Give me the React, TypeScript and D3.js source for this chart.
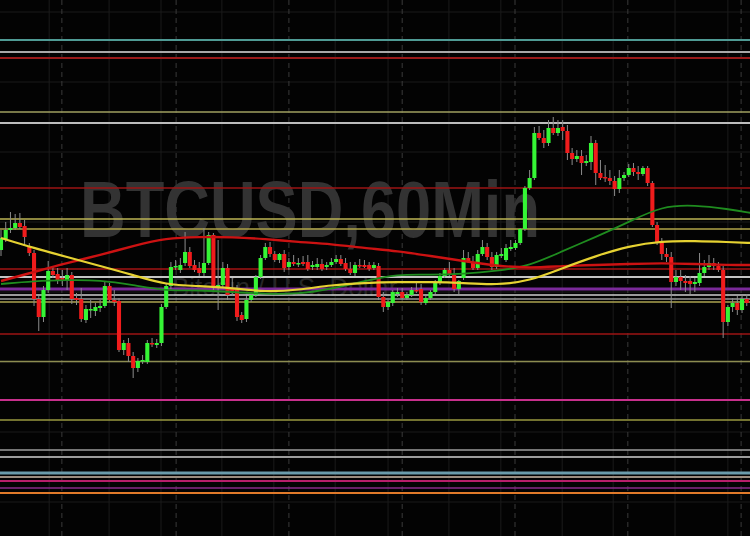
import React from "react";
import * as d3 from "d3";

const W = 750;
const H = 536;

// Candles (60-min BTCUSD)
const opens = [6750,6761,6770,6772,6777,6774,6754,6747,6701,6683,6710,6729,6726,6722,6720,6725,6702,6701,6680,6690,6689,6692,6694,6714,6700,6699,6650,6657,6644,6632,6639,6638,6657,6655,6657,6693,6714,6733,6730,6737,6748,6735,6732,6727,6737,6765,6712,6715,6732,6712,6712,6685,6681,6700,6705,6723,6742,6753,6746,6740,6746,6733,6738,6736,6738,6738,6733,6733,6736,6733,6735,6738,6741,6737,6731,6727,6735,6735,6735,6732,6734,6703,6693,6697,6706,6708,6702,6705,6710,6711,6697,6702,6708,6717,6724,6730,6725,6711,6722,6742,6738,6732,6746,6753,6743,6733,6744,6740,6751,6752,6757,6771,6812,6822,6867,6862,6857,6872,6867,6873,6869,6847,6841,6844,6837,6838,6857,6827,6823,6822,6819,6811,6822,6825,6832,6828,6826,6832,6817,6775,6758,6746,6743,6718,6723,6719,6719,6716,6717,6727,6733,6737,6734,6730,6678,6693,6697,6690,6701];
const highs = [6770,6778,6788,6786,6787,6780,6757,6750,6704,6714,6739,6734,6732,6730,6732,6728,6707,6712,6695,6700,6697,6700,6719,6717,6710,6702,6660,6662,6648,6642,6645,6660,6662,6661,6696,6717,6738,6740,6742,6768,6753,6740,6738,6772,6768,6767,6760,6738,6736,6722,6715,6688,6704,6708,6725,6745,6757,6758,6749,6747,6750,6742,6745,6742,6744,6745,6739,6742,6741,6738,6742,6745,6745,6742,6738,6738,6741,6740,6738,6738,6737,6708,6700,6710,6712,6712,6708,6713,6717,6716,6704,6710,6720,6727,6732,6738,6732,6720,6750,6748,6744,6750,6760,6757,6748,6748,6752,6756,6760,6760,6772,6814,6830,6873,6874,6870,6880,6883,6880,6880,6875,6852,6850,6850,6845,6864,6860,6840,6835,6830,6824,6830,6828,6836,6837,6834,6834,6834,6819,6778,6762,6752,6748,6730,6730,6725,6724,6722,6747,6740,6745,6742,6738,6734,6695,6702,6704,6705,6706];
const lows = [6744,6758,6767,6770,6771,6754,6744,6694,6669,6678,6707,6722,6716,6714,6710,6696,6695,6678,6677,6682,6684,6688,6692,6698,6694,6648,6645,6638,6622,6628,6636,6636,6653,6652,6654,6691,6711,6730,6727,6734,6732,6728,6724,6724,6735,6710,6690,6712,6700,6704,6679,6677,6678,6698,6703,6721,6740,6743,6738,6737,6728,6730,6734,6733,6734,6729,6730,6730,6729,6730,6733,6736,6734,6729,6725,6724,6732,6732,6729,6730,6700,6688,6690,6694,6703,6701,6700,6703,6707,6695,6695,6700,6706,6715,6722,6724,6708,6706,6720,6737,6730,6730,6744,6740,6730,6731,6742,6738,6749,6750,6755,6769,6810,6820,6860,6852,6854,6865,6864,6860,6840,6835,6838,6825,6834,6830,6815,6820,6818,6815,6804,6807,6819,6823,6824,6820,6824,6814,6773,6755,6740,6738,6692,6714,6710,6708,6706,6708,6714,6724,6730,6730,6728,6662,6674,6688,6685,6687,6694];
const closes = [6762,6770,6772,6777,6773,6763,6747,6701,6683,6710,6729,6725,6720,6720,6725,6701,6700,6681,6691,6691,6693,6694,6714,6700,6698,6650,6657,6644,6632,6639,6640,6657,6656,6657,6693,6714,6733,6734,6735,6748,6734,6730,6727,6737,6765,6713,6715,6732,6705,6709,6683,6680,6700,6705,6723,6742,6753,6746,6740,6746,6732,6738,6736,6737,6736,6731,6735,6736,6731,6735,6738,6741,6736,6731,6727,6735,6734,6733,6731,6735,6703,6693,6698,6708,6708,6702,6705,6710,6709,6698,6702,6708,6717,6724,6730,6725,6711,6719,6742,6738,6732,6746,6753,6743,6733,6745,6746,6752,6753,6757,6771,6812,6822,6867,6862,6857,6872,6867,6872,6869,6847,6841,6844,6837,6839,6857,6827,6822,6822,6819,6811,6822,6825,6832,6828,6826,6832,6817,6775,6758,6746,6743,6718,6723,6719,6717,6716,6718,6727,6733,6737,6734,6730,6678,6693,6697,6690,6701,6697];

// Moving averages, read at candle indices
const maIndex = [0,7,14,21,28,35,42,49,56,63,70,77,84,91,98,105,112,119,126,133,140,147,154,159];
const maRed = [6719,6728,6737,6745,6754,6762,6763,6763,6761,6758,6756,6752,6749,6744,6739,6734,6732,6734,6735,6736,6737,6736,6735,6735];
const maYellow = [6762,6752,6743,6734,6725,6715,6714,6712,6708,6710,6715,6717,6718,6718,6717,6715,6719,6732,6744,6754,6759,6759,6758,6757];
const maGreen = [6716,6719,6720,6720,6715,6709,6710,6708,6706,6706,6711,6719,6726,6725,6726,6729,6734,6749,6763,6778,6794,6795,6791,6787];

// Horizontal levels
const levelPrices = [6960,6948,6942,6888,6877,6812,6781,6771,6731,6723,6711,6705,6701,6698,6666,6638.5,6600,6580,6550,6543,6527,6523,6519,6512,6507];
const levelColors = ["#4f9a94","#a8a8a8","#9a1a1a","#a0a060","#bdbdbd","#9c1515","#bdb454","#b0a448","#a51515","#c4c4c4","#7b2a9a","#cfcfcf","#9a9a9a","#aca450","#9c1515","#8c8c50","#c8308c","#9a9a40","#9c9c9c","#d0d0d0","#6a9cac","#9b8d80","#b81e6a","#8a2a8a","#e07a2a"];
const levelWidths = [2,2,2,1.5,2,1.5,1.5,1.5,1.5,2,3,1.5,1.5,1.5,1.5,1.5,2,1.5,1.5,1.5,3,2,2,1.5,2];

// Grid
const dayTicks = [12.9,37.1,61,85,108.9,132.8,156.8];
const minorTicks = [10.2,22.9,33.9,46.8,57.8,70.8,82,94.9,105.9,118.9,129.7,142.8,154];
const priceGrid = [6988,6918,6848,6778,6708,6638,6568,6498];

export default function App() {
  const N = opens.length;
  const step = 4.72;
  const x = d3.scaleLinear().domain([0, N - 1]).range([1, 1 + step * (N - 1)]);
  const y = d3.scaleLinear().domain([7000, 6464]).range([0, H]);
  const bw = 4.1;

  const maLine = (vals: number[]) =>
    d3
      .line<number>()
      .x((_, i) => x(maIndex[i]))
      .y((v) => y(v))
      .curve(d3.curveBasis)(vals) as string;

  return (
    <svg
      width={W}
      height={H}
      style={{ position: "absolute", left: 0, top: 0, background: "#030303" }}
    >
      <rect x={0} y={0} width={W} height={H} fill="#030303" />
      {priceGrid.map((p, i) => (
        <line key={"pg" + i} x1={0} x2={W} y1={y(p)} y2={y(p)} stroke="#1b1b1b" strokeWidth={1} />
      ))}
      {minorTicks.map((t, i) => (
        <line key={"mt" + i} x1={x(t)} x2={x(t)} y1={0} y2={H} stroke="#1b1b1b" strokeWidth={1} />
      ))}
      {dayTicks.map((t, i) => (
        <line key={"dt" + i} x1={x(t)} x2={x(t)} y1={0} y2={H} stroke="#3a3a3a" strokeWidth={1} strokeDasharray="5,4" />
      ))}
      <text
        x={80}
        y={237}
        fontFamily="'Liberation Sans', Arial, sans-serif"
        fontWeight="bold"
        fontSize={80}
        fill="#333333"
        textLength={460}
        lengthAdjust="spacingAndGlyphs"
      >
        BTCUSD,60Min
      </text>
      <text
        x={172}
        y={296}
        fontFamily="'Liberation Sans', Arial, sans-serif"
        fontSize={26}
        fill="#262626"
      >
        Bitcoin / U.S. Dollar
      </text>
      {levelPrices.map((p, i) => (
        <line key={"lv" + i} x1={0} x2={W} y1={y(p)} y2={y(p)} stroke={levelColors[i]} strokeWidth={levelWidths[i]} />
      ))}
      {opens.map((o, i) => {
        const c = closes[i];
        const up = c >= o;
        const top = y(Math.max(o, c));
        const bot = y(Math.min(o, c));
        return (
          <g key={"c" + i}>
            <line x1={x(i)} x2={x(i)} y1={y(highs[i])} y2={y(lows[i])} stroke="#8c8c8c" strokeWidth={1} />
            <rect
              x={x(i) - bw / 2}
              y={top}
              width={bw}
              height={Math.max(1.5, bot - top)}
              fill={up ? "#35f535" : "#f01c1c"}
            />
          </g>
        );
      })}
      <path d={maLine(maGreen)} fill="none" stroke="#1f8c1f" strokeWidth={1.8} />
      <path d={maLine(maRed)} fill="none" stroke="#cc1212" strokeWidth={2.4} />
      <path d={maLine(maYellow)} fill="none" stroke="#e6d232" strokeWidth={2.2} />
    </svg>
  );
}
